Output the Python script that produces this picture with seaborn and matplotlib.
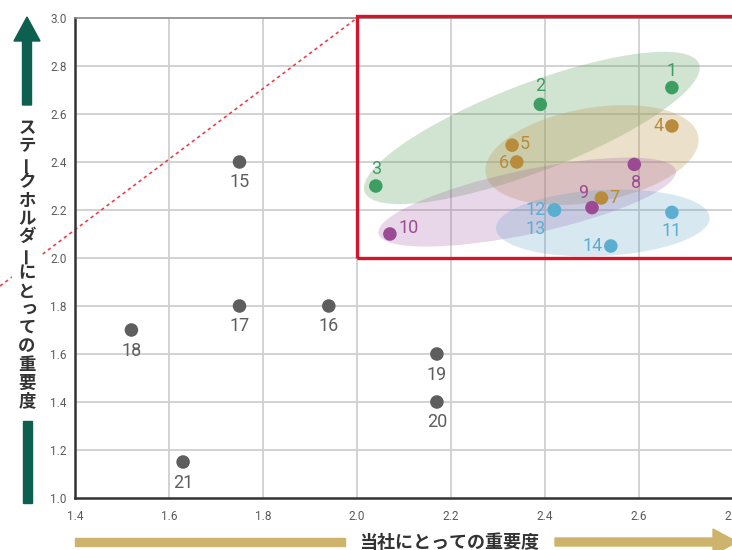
import matplotlib
matplotlib.use("Agg")
import matplotlib.pyplot as plt
import numpy as np
import pandas as pd
import seaborn as sns
from matplotlib.patches import Ellipse, Rectangle, Polygon
from matplotlib.transforms import ScaledTranslation

# ---- data -------------------------------------------------------------
issue_ids = [str(i) for i in range(1, 22)]
company_importance = [2.67, 2.39, 2.04, 2.67, 2.33, 2.34, 2.52, 2.59, 2.50, 2.07,
                      2.67, 2.42, 2.42, 2.54, 1.75, 1.94, 1.75, 1.52, 2.17, 2.17, 1.63]
stakeholder_importance = [2.71, 2.64, 2.30, 2.55, 2.47, 2.40, 2.25, 2.39, 2.21, 2.10,
                          2.19, 2.20, 2.20, 2.05, 2.40, 1.80, 1.80, 1.70, 1.60, 1.40, 1.15]
cluster = ["green", "green", "green", "gold", "gold", "gold", "gold",
           "purple", "purple", "purple", "blue", "blue", "blue", "blue",
           "other", "other", "other", "other", "other", "other", "other"]

x_ticks = [1.4, 1.6, 1.8, 2.0, 2.2, 2.4, 2.6, 2.8]
y_ticks = [1.0, 1.2, 1.4, 1.6, 1.8, 2.0, 2.2, 2.4, 2.6, 2.8, 3.0]
x_label = "当社にとっての重要度"
y_label = "ステークホルダーにとっての重要度"

# ---- styling ----------------------------------------------------------
palette = {"green": "#3d9e62", "gold": "#b98c3d", "purple": "#9b4b93",
           "blue": "#5aaed0", "other": "#5e5e5e"}
# label placement around each point: (dx, dy) in pixels and alignment
label_place = {
    "1": (0, 17, "center"), "2": (0, 18, "center"), "3": (0, 17, "center"),
    "4": (-8, 0, "right"), "5": (8, 1, "left"), "6": (-8, -1, "right"),
    "7": (8, 0, "left"), "8": (2, -19, "center"), "9": (-9, 15, "center"),
    "10": (9, 6, "left"), "11": (0, -19, "center"), "12": (-9, 0, "right"),
    "13": (-9, -19, "right"), "14": (-8, 0, "right"), "15": (0, -20, "center"),
    "16": (0, -20, "center"), "17": (0, -20, "center"), "18": (0, -21, "center"),
    "19": (0, -21, "center"), "20": (0, -20, "center"), "21": (0, -21, "center"),
}
# translucent grouping ellipses: centre (data), full width/height (px), angle
groups = [
    ("green", 2.372, 2.542, 358, 88, 21, "#5aa060", 0.28),
    ("gold", 2.500, 2.429, 216, 94, 10, "#c09a50", 0.30),
    ("purple", 2.362, 2.233, 304, 64, 12, "#a05aa0", 0.24),
    ("blue", 2.523, 2.146, 214, 66, 3, "#5aa0c8", 0.24),
]

df = pd.DataFrame({"id": issue_ids, "company": company_importance,
                   "stakeholder": stakeholder_importance, "cluster": cluster})

sns.set_theme(style="white")
plt.rcParams["font.family"] = ["Roboto", "DejaVu Sans"]

W, H = 732, 550
fig = plt.figure(figsize=(W / 100, H / 100), dpi=100)
ax = fig.add_axes([75 / W, 1 - 498 / H, 658 / W, 480 / H])

ax.set_xlim(1.4, 2.8)
ax.set_ylim(1.0, 3.0)

# grid
for gx in x_ticks[1:-1]:
    ax.axvline(gx, color="#cfcfcf", lw=1.3, zorder=0)
for gy in y_ticks[1:-1]:
    ax.axhline(gy, color="#cfcfcf", lw=1.3, zorder=0)

# grouping ellipses
for name, cx, cy, w, h, ang, col, alpha in groups:
    tr = fig.dpi_scale_trans + ScaledTranslation(cx, cy, ax.transData)
    ax.add_patch(Ellipse((0, 0), w / 100, h / 100, angle=ang, transform=tr,
                         facecolor=col, alpha=alpha, edgecolor="none", zorder=1))

# dashed diagonal
ax.plot([1.2404, 2.0], [1.883, 3.0], color="#e8404f", lw=1.2,
        dashes=(2, 2), clip_on=False, zorder=2)

# materiality frame
ax.add_patch(Rectangle((2.0, 2.0), 0.82, 1.008, fill=False, edgecolor="#d3142b",
                       lw=2.4, clip_on=False, zorder=3))

sns.scatterplot(data=df, x="company", y="stakeholder", hue="cluster",
                palette=palette, s=95, linewidth=0, legend=False, ax=ax, zorder=4)

for _, r in df.iterrows():
    dx, dy, ha = label_place[r["id"]]
    ax.annotate(r["id"], (r["company"], r["stakeholder"]), xytext=(dx, dy),
                textcoords="offset pixels", ha=ha, va="center", fontsize=13,
                color=palette[r["cluster"]], zorder=5)

ax.set_xticks(x_ticks)
ax.set_yticks(y_ticks)
ax.set_xticklabels([f"{v:.1f}" for v in x_ticks])
ax.set_yticklabels([f"{v:.1f}" for v in y_ticks])
ax.tick_params(axis="both", length=0, labelsize=8.5, labelcolor="#5a5a5a")
ax.tick_params(axis="x", pad=9)
ax.tick_params(axis="y", pad=6)
ax.set_xlabel("")
ax.set_ylabel("")

for side in ["left", "bottom"]:
    ax.spines[side].set_color("#333333")
    ax.spines[side].set_linewidth(1.8)
ax.spines["top"].set_color("#8a8a8a")
ax.spines["top"].set_linewidth(1.2)
ax.spines["right"].set_visible(False)


def P(x, y):
    return (x / W, 1 - y / H)


teal = "#0d5f50"
gold = "#cdb36b"
# vertical axis arrow
fig.add_artist(Polygon([P(27, 17), P(40, 41), P(31.5, 41), P(31.5, 105),
                        P(22.5, 105), P(22.5, 41), P(14, 41)],
                       closed=True, transform=fig.transFigure, color=teal))
fig.add_artist(Polygon([P(22.5, 421), P(31.5, 421), P(31.5, 503), P(22.5, 503)],
                       closed=True, transform=fig.transFigure, color=teal))
# horizontal axis arrow
fig.add_artist(Polygon([P(75, 538), P(345, 538), P(345, 546), P(75, 546)],
                       closed=True, transform=fig.transFigure, color=gold))
fig.add_artist(Polygon([P(555, 538), P(713, 538), P(713, 529), P(737, 542),
                        P(713, 555), P(713, 546), P(555, 546)],
                       closed=True, transform=fig.transFigure, color=gold))

jp = ["Noto Sans CJK JP", "DejaVu Sans"]
fig.text(449 / W, 1 - 542 / H, x_label, ha="center", va="center", fontsize=13,
         fontweight="bold", color="#333333", family=jp)

# white column behind the vertical axis title
fig.add_artist(Polygon([P(12, 112), P(41, 112), P(41, 414), P(12, 414)],
                       closed=True, transform=fig.transFigure, color="white"))

# vertical axis title, one character per line
n = len(y_label)
y0, y1 = 128, 401
for i, ch in enumerate(y_label):
    yy = y0 + (y1 - y0) * i / (n - 1)
    rot = 90 if ch == "ー" else 0
    dx, dy = 0, 0
    if ch in "っッ":
        dx, dy = 2, -2
    fig.text((27 + dx) / W, 1 - (yy + dy) / H, ch, ha="center", va="center",
             fontsize=12.5, fontweight="bold", color="#333333", family=jp,
             rotation=rot)

fig.savefig("out.png", dpi=100)
